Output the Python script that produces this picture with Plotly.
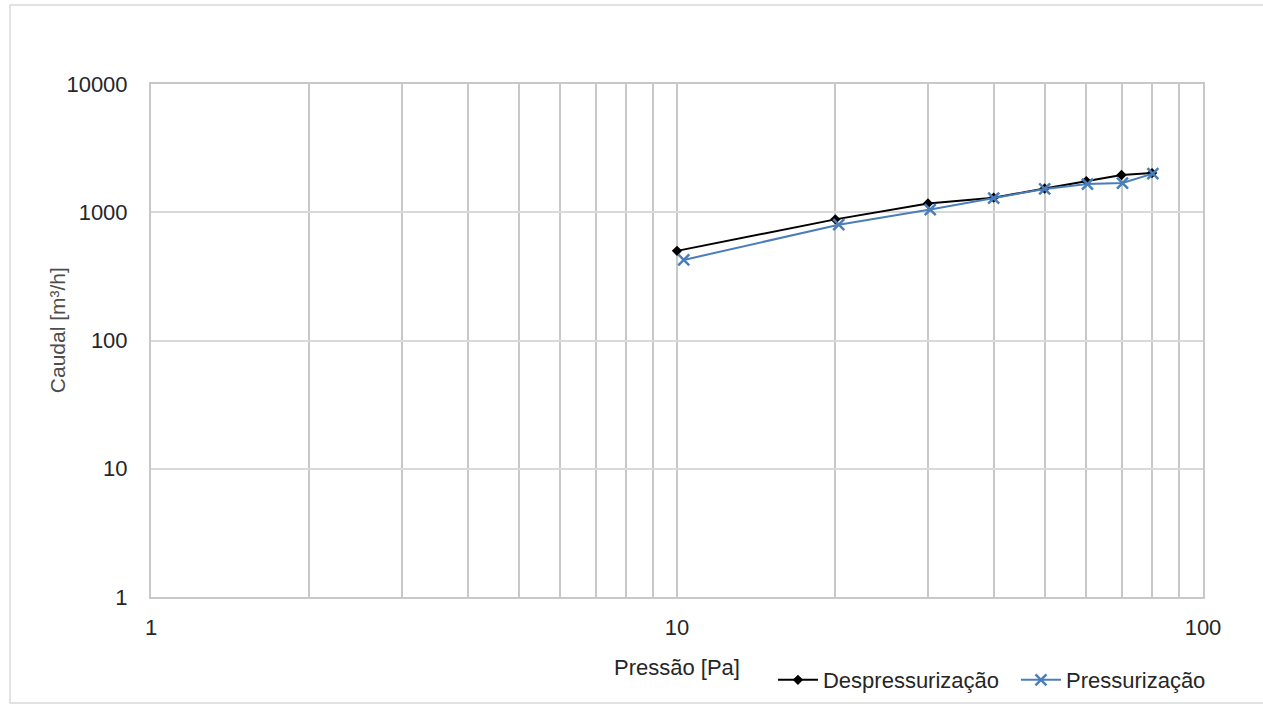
import plotly.graph_objects as go

# Data
pressao_desp = [10, 20, 30, 40, 50, 60, 70, 80]
caudal_desp = [500, 880, 1170, 1300, 1530, 1750, 1950, 2020]
pressao_press = [10.3, 20.3, 30.3, 40, 50, 60.3, 70.3, 80.3]
caudal_press = [425, 800, 1050, 1290, 1520, 1660, 1690, 2000]

x_grid_vals = [1, 2, 3, 4, 5, 6, 7, 8, 9, 10, 20, 30, 40, 50, 60, 70, 80, 90, 100]
x_grid_text = ["1", "", "", "", "", "", "", "", "", "10", "", "", "", "", "", "", "", "", "100"]
y_tick_vals = [1, 10, 100, 1000, 10000]
y_tick_text = ["1", "10", "100", "1000", "10000"]

font_family = "Liberation Sans, Arial, sans-serif"
text_color = "#262626"

fig = go.Figure()
fig.add_trace(go.Scatter(
    x=pressao_desp, y=caudal_desp, name="Despressurização",
    mode="lines+markers",
    line=dict(color="#000000", width=2),
    marker=dict(symbol="diamond", size=8, color="#000000"),
))
fig.add_trace(go.Scatter(
    x=pressao_press, y=caudal_press, name="Pressurização",
    mode="lines+markers",
    line=dict(color="#4a7ebb", width=2),
    marker=dict(symbol="x-thin", size=11, color="#4a7ebb",
                line=dict(color="#4a7ebb", width=2.5)),
))

fig.update_layout(
    width=1263, height=704,
    margin=dict(l=151, r=60, t=84, b=107, autoexpand=False),
    paper_bgcolor="white", plot_bgcolor="white",
    font=dict(family=font_family, size=22, color=text_color),
    showlegend=True,
    legend=dict(orientation="h", xref="container", yref="container",
                x=0.612, y=0.034, xanchor="left", yanchor="middle",
                font=dict(size=22, color=text_color), itemwidth=40,
                entrywidth=188, entrywidthmode="pixels",
                bgcolor="rgba(0,0,0,0)", tracegroupgap=0),
    shapes=[dict(type="rect", xref="paper", yref="paper",
                 x0=-0.134, x1=1.12, y0=-0.2066, y1=1.154,
                 line=dict(color="#d9d9d9", width=1.5), layer="below")],
    annotations=[
        dict(text="Caudal [m³/h]", xref="paper", yref="paper",
             x=-0.0894, y=0.52, textangle=-90, showarrow=False,
             xanchor="center", yanchor="middle",
             font=dict(size=21, color="#4d4d4d")),
        dict(text="Pressão [Pa]", xref="paper", yref="paper",
             x=0.5, y=-0.138, showarrow=False,
             xanchor="center", yanchor="middle",
             font=dict(size=22, color=text_color)),
    ],
)

fig.update_xaxes(
    type="log", range=[0, 2], automargin=False,
    tickvals=x_grid_vals, ticktext=x_grid_text,
    showgrid=True, gridcolor="#c8c8c8", gridwidth=2,
    showline=True, linecolor="#c8c8c8", linewidth=2, mirror=True,
    ticks="", ticklabelstandoff=10,
    tickfont=dict(size=22, color=text_color),
    zeroline=False,
)
fig.update_yaxes(
    type="log", range=[0, 4], automargin=False,
    tickvals=y_tick_vals, ticktext=y_tick_text,
    showgrid=True, gridcolor="#d9d9d9", gridwidth=2,
    showline=True, linecolor="#c8c8c8", linewidth=2, mirror=True,
    ticks="", ticklabelstandoff=17,
    tickfont=dict(size=22, color=text_color),
    zeroline=False,
)

fig.write_html("out.html", config={"displayModeBar": False},
               post_script="document.body.style.margin='0';")
